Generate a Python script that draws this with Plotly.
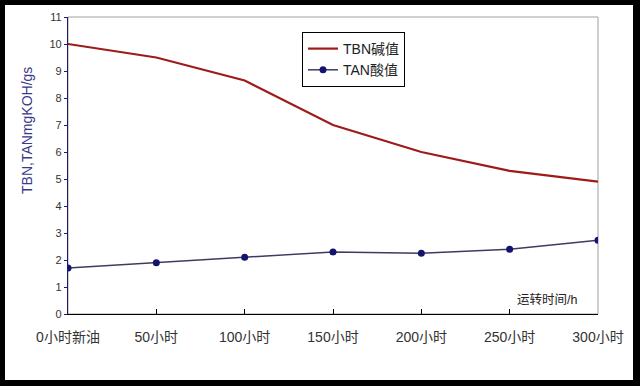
import plotly.graph_objects as go

categories = ["0小时新油", "50小时", "100小时", "150小时", "200小时", "250小时", "300小时"]
tbn_values = [10.0, 9.5, 8.65, 7.0, 6.0, 5.3, 4.9]
tan_values = [1.7, 1.9, 2.1, 2.3, 2.25, 2.4, 2.73]
y_ticks = list(range(0, 12))

xpos = list(range(len(categories)))
FONT = "Liberation Sans, Arial, Noto Sans CJK SC, sans-serif"

fig = go.Figure()
fig.add_trace(go.Scatter(
    x=xpos, y=tbn_values, mode="lines", name="TBN碱值",
    line=dict(color="#9E1B1B", width=2.2),
))
fig.add_trace(go.Scatter(
    x=xpos, y=tan_values, mode="lines+markers", name="TAN酸值",
    line=dict(color="#3C3C60", width=1.5),
    marker=dict(color="#14146E", size=7),
))

L, R, T, B = 68, 42, 17, 72
W, H = 640, 386
pw, ph = W - L - R, H - T - B

def px(x):
    return (x - L) / pw

def py(y):
    return (H - B - y) / ph

fig.update_layout(
    width=W, height=H,
    margin=dict(l=L, r=R, t=T, b=B),
    paper_bgcolor="black",
    plot_bgcolor="white",
    font=dict(family=FONT, color="#333333"),
    showlegend=True,
    legend=dict(
        x=px(302), y=py(32), xanchor="left", yanchor="top",
        bordercolor="black", borderwidth=1, bgcolor="white",
        font=dict(size=14, color="#222222", family=FONT),
        tracegroupgap=0, itemwidth=30,
    ),
    xaxis=dict(
        range=[0, len(categories) - 1],
        tickvals=xpos, ticktext=categories,
        showgrid=False, zeroline=False,
        showline=True, linecolor="black", linewidth=1.2,
        ticks="inside", ticklen=5, tickcolor="black",
        ticklabelstandoff=10,
        tickfont=dict(size=14, color="#333333", family=FONT),
    ),
    yaxis=dict(
        range=[0, 11], tickvals=y_ticks,
        showgrid=False, zeroline=False,
        showline=True, linecolor="#1A1A6E", linewidth=1.2,
        ticks="outside", ticklen=3, tickcolor="#1A1A6E",
        tickfont=dict(size=11, color="#333333", family=FONT),
    ),
    shapes=[
        dict(type="rect", xref="paper", yref="paper",
             x0=px(5), x1=px(633), y0=py(380), y1=py(5),
             fillcolor="white", line=dict(width=0), layer="below"),
        dict(type="rect", xref="paper", yref="paper",
             x0=0, x1=1, y0=0, y1=1,
             fillcolor="rgba(0,0,0,0)", line=dict(color="#A0A0A0", width=1), layer="below"),
    ],
    annotations=[
        dict(text="TBN,TANmgKOH/gs", xref="paper", yref="paper",
             x=px(27), y=py(131), xanchor="center", yanchor="middle",
             textangle=-90, showarrow=False,
             font=dict(size=14, color="#3A3A8C", family=FONT)),
        dict(text="运转时间/h", xref="paper", yref="paper",
             x=px(547), y=py(299), xanchor="center", yanchor="middle",
             showarrow=False,
             font=dict(size=12.5, color="#222222", family=FONT)),
    ],
)

fig.write_html(
    "out.html",
    config={"displayModeBar": False},
    post_script="document.body.style.margin='0';document.body.style.padding='0';"
                "document.body.style.background='black';document.body.style.overflow='hidden';",
)
